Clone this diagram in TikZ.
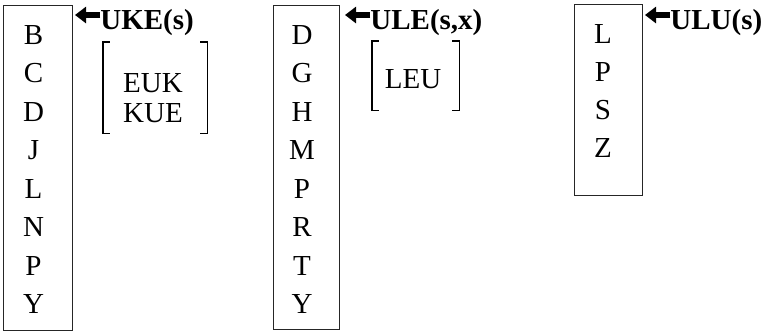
\documentclass[tikz,border=0pt]{standalone}
\usepackage{fontspec}
\setmainfont{Liberation Serif}
\usetikzlibrary{arrows.meta}

\begin{document}
\begin{tikzpicture}[
        x=0.5pt, y=-0.5pt,
        column/.style={rectangle, draw=black!85, line width=0.6pt, anchor=north west, inner sep=0pt, minimum width=34pt},
        letter/.style={anchor=base, inner sep=0pt, font=\fontsize{14.5}{17}\selectfont},
        rule/.style={anchor=base west, inner sep=0pt, font=\fontsize{14.5}{17}\selectfont\bfseries},
        set/.style={rectangle, inner sep=0pt},
        bracket/.style={draw=black, line width=0.9pt},
        pointer/.style={draw=black, line width=3pt, -{Triangle[length=5.5pt,width=8pt]}}
    ]
        \useasboundingbox (0,0) rectangle (767,334);

        \node [column, minimum width=34.5pt, minimum height=162.5pt] (colUKE) at (3,5) {};
        \foreach \l [count=\i from 0] in {B,C,D,J,L,N,P,Y}
            \node [letter] (uke\i) at (33.5,44+38.5*\i) {\l};
        \node [column, minimum width=33pt, minimum height=162pt] (colULE) at (273,5) {};
        \foreach \l [count=\i from 0] in {D,G,H,M,P,R,T,Y}
            \node [letter] (ule\i) at (302,44+38.5*\i) {\l};
        \node [column, minimum width=34pt, minimum height=95.5pt] (colULU) at (574,4) {};
        \foreach \l [count=\i from 0] in {L,P,S,Z}
            \node [letter] (ulu\i) at (603,43.5+38*\i) {\l};

        \node [rule] (ruleUKE) at (100,29) {UKE(s)};
        \node [rule] (ruleULE) at (370,29) {ULE(s,x)};
        \node [rule] (ruleULU) at (670,29) {ULU(s)};
        \coordinate (tipUKE) at (75,15);
        \coordinate (tipULE) at (345,15);
        \coordinate (tipULU) at (645,15);
        \draw [pointer] (tipUKE -| ruleUKE.west) -- (tipUKE);
        \draw [pointer] (tipULE -| ruleULE.west) -- (tipULE);
        \draw [pointer] (tipULU -| ruleULU.west) -- (tipULU);

        \node [set, minimum width=52pt, minimum height=45.5pt] (setUKE) at (155,87.5) {};
        \node [letter] (euk) at (153,92) {EUK};
        \node [letter] (kue) at (153,122) {KUE};
        \node [set, minimum width=43.5pt, minimum height=34.5pt] (setULE) at (415.5,75.5) {};
        \node [letter] (leu) at (413,88) {LEU};

        \draw [bracket] ([xshift=3.5pt]setUKE.north west) -| (setUKE.south west) -- ++(7,0);
        \draw [bracket] ([xshift=-3.5pt]setUKE.north east) -| (setUKE.south east) -- ++(-7,0);
        \draw [bracket] ([xshift=3.5pt]setULE.north west) -| (setULE.south west) -- ++(7,0);
        \draw [bracket] ([xshift=-3.5pt]setULE.north east) -| (setULE.south east) -- ++(-7,0);
    \end{tikzpicture}
\end{document}
